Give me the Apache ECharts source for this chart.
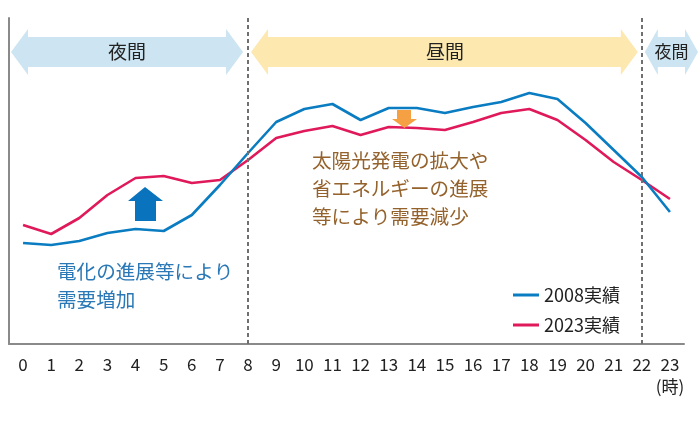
<!DOCTYPE html>
<html><head><meta charset="utf-8">
<script src="https://cdn.jsdelivr.net/npm/echarts@6/dist/echarts.min.js"></script>
<style>html,body{margin:0;padding:0;background:#fff}#c{width:700px;height:424px}</style>
</head><body><div id="c"></div>
<script>
const hours = ['0','1','2','3','4','5','6','7','8','9','10','11','12','13','14','15','16','17','18','19','20','21','22','23'];
const demand2008 = [101,99,103,111,115,113,129,159,191,222,235,240,224,236,236,231,237,242,251,245,221,194,167,132];
const demand2023 = [119,110,126,149,166,168,161,164,184,206,213,218,209,217,216,214,222,231,235,224,204,182,164,145];
const seriesNames = ['2008実績','2023実績'];
const boundaryHours = ['8','22'];
const periodLabels = ['夜間','昼間','夜間'];

const FONT = '"Noto Sans CJK JP","Noto Sans",sans-serif';
const chart = echarts.init(document.getElementById('c'), null, {renderer:'canvas'});
chart.setOption({
  animation:false,
  textStyle:{fontFamily:FONT},
  grid:{left:9,right:16,top:18,bottom:80,containLabel:false},
  xAxis:{type:'category',data:hours,boundaryGap:true,
    axisLine:{show:true,lineStyle:{color:'#8a8a8a',width:2}},
    axisTick:{show:false},splitLine:{show:false},
    axisLabel:{interval:0,margin:10,fontSize:17,color:'#222',fontFamily:FONT,lineHeight:22,
      formatter:function(v){return v==='23'?'23\n(時)':v;}}},
  yAxis:{type:'value',min:0,max:326,
    axisLine:{show:true,lineStyle:{color:'#8a8a8a',width:2}},
    axisTick:{show:false},axisLabel:{show:false},splitLine:{show:false}},
  legend:{orient:'vertical',left:508,top:280,itemWidth:26,itemHeight:3,icon:'rect',itemGap:10,
    textStyle:{fontSize:18,color:'#222',fontFamily:FONT,lineHeight:20},data:seriesNames},
  series:[
    {name:seriesNames[0],type:'line',data:demand2008,symbol:'none',lineStyle:{color:'#0a7cc1',width:2.6},itemStyle:{color:'#0a7cc1'},z:3,
     markLine:{symbol:'none',silent:true,label:{show:false},lineStyle:{color:'#707070',width:2,type:[4,3]},
       data:boundaryHours.map(h=>({xAxis:h}))}},
    {name:seriesNames[1],type:'line',data:demand2023,symbol:'none',lineStyle:{color:'#e0195a',width:2.6},itemStyle:{color:'#e0195a'},z:2}
  ]
});

function dblArrow(a,b,h,color){
  const yc=52, bh=15, hh=23;
  return {type:'polygon',silent:true,z:1,shape:{points:[[a,yc],[a+h,yc-hh],[a+h,yc-bh],[b-h,yc-bh],[b-h,yc-hh],[b,yc],[b-h,yc+hh],[b-h,yc+bh],[a+h,yc+bh],[a+h,yc+hh]]},style:{fill:color}};
}
const x8 = chart.convertToPixel({xAxisIndex:0}, boundaryHours[0]);
const x22 = chart.convertToPixel({xAxisIndex:0}, boundaryHours[1]);
const gl = 11, gr = 698;
const txt = (x,y,s,size,color,align)=>({type:'text',silent:true,z:5,x:x,y:y,style:{text:s,fontSize:size,fill:color,fontFamily:FONT,align:align||'left',verticalAlign:'middle',lineHeight:28}});
chart.setOption({graphic:[
  dblArrow(gl, x8-5, 17, '#cde5f2'),
  dblArrow(x8+3, x22-4, 17, '#fde8b0'),
  dblArrow(x22+3, gr, 13, '#cde5f2'),
  txt((gl+x8-5)/2,52,periodLabels[0],19,'#222','center'),
  txt((x8+x22)/2,52,periodLabels[1],19,'#222','center'),
  txt((x22+3+gr)/2,52,periodLabels[2],17,'#222','center'),
  {type:'polygon',silent:true,z:4,shape:{points:[[145,187],[163,201],[156,201],[156,221],[135,221],[135,201],[128,201]]},style:{fill:'#0a73bd'}},
  {type:'polygon',silent:true,z:4,shape:{points:[[397,110],[411,110],[411,119],[417,119],[404.5,128],[392,119],[397,119]]},style:{fill:'#f5a043'}},
  {type:'text',silent:true,z:5,x:57,y:258,style:{text:'電化の進展等により\n需要増加',fontSize:19.6,fill:'#2a78b5',fontFamily:FONT,lineHeight:28,verticalAlign:'top'}},
  {type:'text',silent:true,z:5,x:312,y:147,style:{text:'太陽光発電の拡大や\n省エネルギーの進展\n等により需要減少',fontSize:19.6,fill:'#94622c',fontFamily:FONT,lineHeight:28,verticalAlign:'top'}}
]});
</script></body></html>
